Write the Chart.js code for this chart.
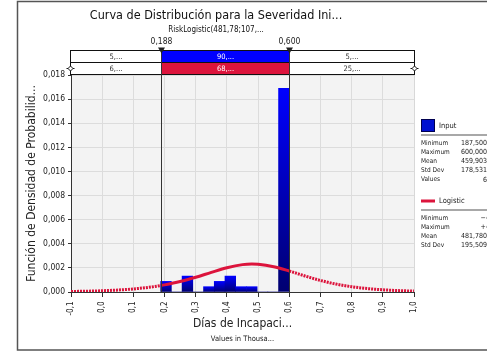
<!DOCTYPE html>
<html>
<head>
<meta charset="utf-8">
<script src="https://cdn.jsdelivr.net/npm/chart.js@4.4.1/dist/chart.umd.min.js"></script>
<style>
body { margin: 0; background: #fff; }
#wrap { width: 487px; height: 352px; }
</style>
</head>
<body>
<div id="wrap"><canvas id="distChart"></canvas></div>
<script>
// histogram of the input (x in thousands of days)
var binCenters = [0.2047, 0.2391, 0.2734, 0.3078, 0.3422, 0.3766, 0.4109, 0.4453, 0.4797, 0.5141, 0.5484, 0.5828];
var binDensity = [0.00088, 0, 0.00132, 0, 0.00044, 0.00088, 0.00132, 0.00044, 0.00044, 0, 0, 0.0169];

// fitted logistic curve
var curveX = [-0.1, -0.05, 0, 0.05, 0.1, 0.15, 0.1875, 0.2, 0.25, 0.3, 0.35, 0.4, 0.45, 0.48, 0.5, 0.55, 0.6, 0.65, 0.7, 0.75, 0.8, 0.85, 0.9, 0.95, 1.0];
var curveY = [0.000042, 0.000066, 0.000104, 0.000163, 0.000254, 0.000391, 0.000533, 0.00059, 0.000867, 0.001223, 0.00163, 0.002015, 0.00227, 0.002319, 0.002303, 0.002102, 0.001741, 0.001331, 0.000956, 0.000657, 0.000438, 0.000286, 0.000184, 0.000117, 0.000075];

// delimiters and the percentage bands above the plot
var leftMark = 0.1875, leftMarkLabel = '0,188';
var rightMark = 0.6, rightMarkLabel = '0,600';
var inputBand = ['5,...', '90,...', '5,...'];
var fitBand = ['6,...', '68,...', '25,...'];

// legend statistics
var inputStatNames = ['Minimum', 'Maximum', 'Mean', 'Std Dev', 'Values'];
var inputStatValues = ['187,5000', '600,0000', '459,9030', '178,5310', '62'];
var fitStatNames = ['Minimum', 'Maximum', 'Mean', 'Std Dev'];
var fitStatValues = ['\u2212\u221E', '+\u221E', '481,7800', '195,5090'];

var fontFamily = "'DejaVu Sans Condensed', 'DejaVu Sans', sans-serif";
Chart.defaults.font.family = fontFamily;
Chart.defaults.color = '#222';

var crimson = '#DC143C';

function comma(v, d) {
    return v.toFixed(d).replace('.', ',');
}

var overlay = {
    id: 'overlay',
    beforeDraw: function(chart) {
        var a = chart.chartArea, ctx = chart.ctx;
        ctx.save();
        ctx.fillStyle = '#F3F3F3';
        ctx.fillRect(a.left, a.top, a.right - a.left, a.bottom - a.top);
        ctx.restore();
    },
    beforeDatasetsDraw: function(chart) {
        var a = chart.chartArea, ctx = chart.ctx;
        ctx.save();
        ctx.strokeStyle = '#D8D8D8';
        ctx.lineWidth = 1;
        ctx.beginPath();
        ctx.moveTo(a.right + 0.5, a.top);
        ctx.lineTo(a.right + 0.5, a.bottom);
        ctx.stroke();
        ctx.restore();
    },
    afterDraw: function(chart) {
        var ctx = chart.ctx, a = chart.chartArea, xs = chart.scales.x;
        var xl = Math.round(xs.getPixelForValue(leftMark)) + 0.5;
        var xr = Math.round(xs.getPixelForValue(rightMark)) + 0.5;
        var L = a.left - 0.5, R = a.right + 0.5;
        var top = a.top - 24.5, mid = a.top - 12.5, bot = a.top - 0.5;
        ctx.save();

        // bands
        ctx.fillStyle = '#fff';
        ctx.fillRect(L, top, R - L, bot - top);
        ctx.fillStyle = '#0000FF';
        ctx.fillRect(xl, top, xr - xl, mid - top);
        ctx.fillStyle = crimson;
        ctx.fillRect(xl, mid, xr - xl, bot - mid);
        ctx.strokeStyle = '#111';
        ctx.lineWidth = 1;
        ctx.strokeRect(L, top, R - L, bot - top);
        ctx.beginPath();
        ctx.moveTo(L, mid); ctx.lineTo(R, mid);
        ctx.stroke();

        ctx.font = '7.5px ' + fontFamily;
        ctx.textAlign = 'center';
        ctx.textBaseline = 'middle';
        var cx = [(L + xl) / 2, (xl + xr) / 2, (xr + R) / 2];
        for (var i = 0; i < 3; i++) {
            ctx.fillStyle = i == 1 ? '#fff' : '#333';
            ctx.fillText(inputBand[i], cx[i], (top + mid) / 2 + 0.5);
            ctx.fillText(fitBand[i], cx[i], (mid + bot) / 2 + 0.5);
        }

        // delimiter lines
        ctx.strokeStyle = '#333';
        ctx.beginPath();
        ctx.moveTo(xl, top); ctx.lineTo(xl, a.bottom);
        ctx.moveTo(xr, top); ctx.lineTo(xr, a.bottom);
        ctx.stroke();

        // delimiter handles and labels
        ctx.fillStyle = '#222';
        [xl, xr].forEach(function(x) {
            ctx.beginPath();
            ctx.moveTo(x - 3.5, top - 3);
            ctx.lineTo(x + 3.5, top - 3);
            ctx.lineTo(x, top + 3);
            ctx.closePath();
            ctx.fill();
        });
        ctx.font = '8.5px ' + fontFamily;
        ctx.fillText(leftMarkLabel, xl, top - 8.5);
        ctx.fillText(rightMarkLabel, xr, top - 8.5);

        // diamond end handles on the fit band
        [L, R].forEach(function(x) {
            var y = (mid + bot) / 2;
            ctx.strokeStyle = '#111';
            ctx.beginPath();
            ctx.moveTo(x - 4, y); ctx.lineTo(x + 4, y);
            ctx.stroke();
            ctx.fillStyle = '#fff';
            ctx.beginPath();
            ctx.moveTo(x, y - 2.5); ctx.lineTo(x + 2.5, y); ctx.lineTo(x, y + 2.5); ctx.lineTo(x - 2.5, y);
            ctx.closePath();
            ctx.fill();
            ctx.stroke();
        });

        // second line of the x axis title
        ctx.fillStyle = '#222';
        ctx.font = '7.5px ' + fontFamily;
        ctx.fillText('Values in Thousa...', (a.left + a.right) / 2, 339);

        // legend
        var lx = 421;
        ctx.fillStyle = '#0010D0';
        ctx.fillRect(lx, 119, 14, 13);
        ctx.strokeStyle = '#000050';
        ctx.strokeRect(lx + 0.5, 119.5, 13, 12);
        ctx.strokeStyle = crimson;
        ctx.lineWidth = 3;
        ctx.beginPath();
        ctx.moveTo(lx, 201); ctx.lineTo(lx + 14, 201);
        ctx.stroke();

        ctx.textAlign = 'left';
        ctx.fillStyle = '#222';
        ctx.font = '7.5px ' + fontFamily;
        ctx.fillText('Input', lx + 18, 126);
        ctx.fillText('Logistic', lx + 18, 201);

        ctx.strokeStyle = '#A8A8A8';
        ctx.lineWidth = 2;
        ctx.beginPath();
        ctx.moveTo(lx, 135); ctx.lineTo(487, 135);
        ctx.moveTo(lx, 210); ctx.lineTo(487, 210);
        ctx.stroke();

        for (var j = 0; j < inputStatNames.length; j++) {
            ctx.font = '6.5px ' + fontFamily;
            ctx.textAlign = 'left';
            ctx.fillText(inputStatNames[j], lx, 143 + j * 9.2);
            ctx.font = '7px ' + fontFamily;
            ctx.textAlign = 'right';
            ctx.fillText(inputStatValues[j], 491, 143 + j * 9.2);
        }
        for (var k = 0; k < fitStatNames.length; k++) {
            ctx.font = '6.5px ' + fontFamily;
            ctx.textAlign = 'left';
            ctx.fillText(fitStatNames[k], lx, 218 + k * 9.2);
            ctx.font = '7px ' + fontFamily;
            ctx.textAlign = 'right';
            ctx.fillText(fitStatValues[k], 491, 218 + k * 9.2);
        }

        // outer frame
        ctx.strokeStyle = '#555';
        ctx.lineWidth = 1.5;
        ctx.strokeRect(17.5, 1.5, 490, 348.5);
        ctx.restore();
    }
};

function barGradient(c) {
    var chart = c.chart;
    if (!chart.chartArea || c.type !== 'data') return '#0000FF';
    var y = chart.scales.y;
    var yTop = y.getPixelForValue(c.parsed.y);
    var yBase = y.getPixelForValue(0);
    if (yBase - yTop < 1) return '#000080';
    var g = chart.ctx.createLinearGradient(0, yTop, 0, yBase);
    g.addColorStop(0, '#0000FF');
    g.addColorStop(1, '#000070');
    return g;
}

var ctx = document.getElementById('distChart').getContext('2d');
var distChart = new Chart(ctx, {
    type: 'bar',
    data: {
        datasets: [{
            type: 'line',
            label: 'Logistic',
            data: curveX.map(function(x, i) { return { x: x, y: curveY[i] }; }),
            borderColor: crimson,
            borderWidth: 3,
            pointRadius: 0,
            fill: false,
            cubicInterpolationMode: 'monotone',
            segment: {
                borderDash: function(s) {
                    var x0 = s.p0.parsed.x, x1 = s.p1.parsed.x;
                    return (x1 <= leftMark || x0 >= rightMark) ? [2, 1] : undefined;
                }
            },
            order: 0
        }, {
            label: 'Input',
            data: binCenters.map(function(x, i) { return { x: x, y: binDensity[i] }; }),
            backgroundColor: barGradient,
            borderWidth: 0,
            barPercentage: 1,
            categoryPercentage: 1,
            order: 1
        }]
    },
    options: {
        responsive: true,
        maintainAspectRatio: false,
        animation: false,
        layout: { padding: { left: 18, right: 73, top: 0, bottom: 0 } },
        plugins: {
            legend: { display: false },
            tooltip: { enabled: false },
            title: {
                display: true,
                text: 'Curva de Distribución para la Severidad Ini...',
                font: { size: 12.5, weight: 'normal' },
                color: '#111',
                padding: { top: 8.5, bottom: 0 }
            },
            subtitle: {
                display: true,
                text: 'RiskLogistic(481,78;107,...',
                font: { size: 8 },
                color: '#111',
                padding: { top: 2, bottom: 39.9 }
            }
        },
        scales: {
            x: {
                type: 'linear',
                min: -0.1,
                max: 1.0,
                offset: false,
                ticks: {
                    stepSize: 0.1,
                    autoSkip: false,
                    minRotation: 90,
                    maxRotation: 90,
                    padding: 4.5,
                    font: { size: 8 },
                    callback: function(v) { return comma(v, 1); }
                },
                grid: { color: '#DCDCDC', tickColor: '#333', tickLength: 5, offset: false },
                border: { color: '#333' },
                title: {
                    display: true,
                    text: 'Días de Incapaci...',
                    font: { size: 12 },
                    padding: { top: 0, bottom: 21 }
                },
                afterFit: function(s) { s.height = 60; }
            },
            y: {
                min: 0,
                max: 0.018,
                ticks: {
                    stepSize: 0.002,
                    padding: 3,
                    font: { size: 8.5 },
                    callback: function(v) { return comma(v, 3); }
                },
                grid: { color: '#DCDCDC', tickColor: '#333', tickLength: 3 },
                border: { color: '#333' },
                title: {
                    display: true,
                    text: 'Función de Densidad de Probabilid...',
                    font: { size: 12 },
                    padding: { top: 7, bottom: 0 }
                },
                afterFit: function(s) { s.width = 53; }
            }
        }
    },
    plugins: [overlay]
});
</script>
</body>
</html>
